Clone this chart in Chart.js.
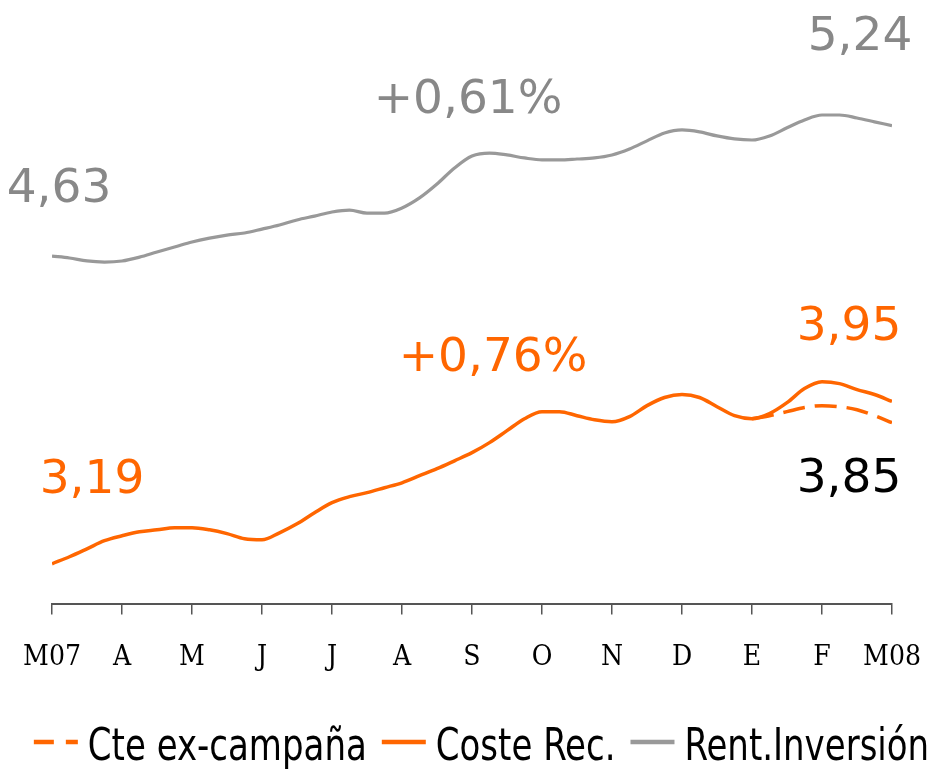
<!DOCTYPE html>
<html>
<head>
<meta charset="utf-8">
<script src="https://cdn.jsdelivr.net/npm/chart.js@4"></script>
<style>
  html,body{margin:0;padding:0;background:#fff;}
  #wrap{width:933px;height:771px;}
</style>
</head>
<body>
<div id="wrap"><canvas id="c" width="933" height="771"></canvas></div>
<script>
// ---- DATA (quarter-month samples, 4 per month) ----
const monthLabels = ['M07','A','M','J','J','A','S','O','N','D','E','F','M08'];
const samplesPerMonth = 4;

const rentInversion = [
  4.630,4.621,4.607,4.602,4.607,4.625,4.649,4.672,4.696,4.714,4.728,4.738,
  4.756,4.775,4.799,4.817,4.836,4.845,4.831,4.831,4.855,4.902,4.967,5.042,
  5.098,5.112,5.103,5.089,5.080,5.080,5.084,5.089,5.103,5.131,5.169,5.206,
  5.220,5.211,5.192,5.178,5.173,5.192,5.230,5.267,5.290,5.290,5.276,5.258,5.240
];
const costeRec = [
  3.190,3.223,3.260,3.298,3.321,3.340,3.349,3.359,3.359,3.349,3.331,3.307,
  3.302,3.335,3.377,3.429,3.476,3.504,3.523,3.546,3.569,3.602,3.635,3.672,
  3.710,3.757,3.813,3.869,3.902,3.902,3.883,3.864,3.855,3.879,3.930,3.968,
  3.982,3.968,3.925,3.883,3.869,3.893,3.944,4.010,4.042,4.033,4.005,3.982,3.950
];
const cteExCampana = [
  null,null,null,null,null,null,null,null,null,null,null,null,
  null,null,null,null,null,null,null,null,null,null,null,null,
  null,null,null,null,null,null,null,null,null,null,null,null,
  null,null,null,null,3.869,3.883,3.902,3.921,3.930,3.925,3.911,3.883,3.850
];
const seriesNames = ['Cte ex-campaña','Coste Rec.','Rent.Inversión'];
const annotationTexts = ['4,63','+0,61%','5,24','3,19','+0,76%','3,95','3,85'];

// ---- styles ----
const ORANGE = '#ff6600';
const GREY = '#999999';
const GREY_TEXT = '#888888';

function toXY(arr){ return arr.map((v,i)=>({x:i/samplesPerMonth, y:v})); }

// annotation placement (styling, relative to series points)
const annotations = [
  {text:annotationTexts[0], ds:2, idx:0,  dx:7,   dy:-54, color:GREY_TEXT},
  {text:annotationTexts[1], ds:2, idx:24, dx:-4,  dy:-43, color:GREY_TEXT},
  {text:annotationTexts[2], ds:2, idx:48, dx:-32, dy:-76, color:GREY_TEXT},
  {text:annotationTexts[3], ds:1, idx:0,  dx:40,  dy:-71, color:ORANGE},
  {text:annotationTexts[4], ds:1, idx:24, dx:21,  dy:-82, color:ORANGE},
  {text:annotationTexts[5], ds:1, idx:48, dx:-43, dy:-61, color:ORANGE},
  {text:annotationTexts[6], ds:0, idx:48, dx:-43, dy:69,  color:'#000000'}
];

const annotationPlugin = {
  id:'valueNotes',
  afterDatasetsDraw(chart){
    const ctx = chart.ctx;
    ctx.save();
    ctx.font = '47px "DejaVu Sans", sans-serif';
    ctx.textAlign = 'center';
    ctx.textBaseline = 'alphabetic';
    annotations.forEach(a=>{
      const pt = chart.getDatasetMeta(a.ds).data[a.idx];
      if(!pt) return;
      ctx.fillStyle = a.color;
      ctx.fillText(a.text, pt.x + a.dx, pt.y + a.dy);
    });
    ctx.restore();
  }
};

const legendPlugin = {
  id:'lineLegend',
  afterDraw(chart){
    const ctx = chart.ctx;
    const ds = chart.data.datasets;
    const iconW = 44, gap = 10, itemGap = 15, squeeze = 0.84, shift = 15;
    ctx.save();
    ctx.font = '45px "DejaVu Sans", sans-serif';
    try { ctx.fontStretch = 'condensed'; } catch(e) {}
    const textW = ds.map(d=>ctx.measureText(d.label).width*squeeze);
    const widths = textW.map(w=>iconW + gap + w);
    const total = widths.reduce((a,b)=>a+b,0) + itemGap*(ds.length-1);
    let x = (chart.width - total)/2 + shift;
    const baseY = 760, iconY = 742;
    ds.forEach((d,i)=>{
      ctx.strokeStyle = d.borderColor;
      ctx.lineWidth = 4.5;
      ctx.lineCap = 'butt';
      ctx.setLineDash(d.borderDash && d.borderDash.length ? [20,12] : []);
      ctx.beginPath();
      ctx.moveTo(x, iconY);
      ctx.lineTo(x+iconW, iconY);
      ctx.stroke();
      ctx.setLineDash([]);
      ctx.fillStyle = '#000';
      ctx.textAlign = 'left';
      ctx.textBaseline = 'alphabetic';
      ctx.save();
      ctx.translate(x+iconW+gap, baseY);
      ctx.scale(squeeze, 1);
      ctx.fillText(d.label, 0, 0);
      ctx.restore();
      x += widths[i] + itemGap;
    });
    ctx.restore();
  }
};

new Chart(document.getElementById('c'), {
  type:'line',
  data:{
    datasets:[
      {label:seriesNames[0], data:toXY(cteExCampana), borderColor:ORANGE, borderWidth:3.5,
       borderDash:[22,10], pointRadius:0, cubicInterpolationMode:'monotone', spanGaps:false},
      {label:seriesNames[1], data:toXY(costeRec), borderColor:ORANGE, borderWidth:3.5,
       pointRadius:0, cubicInterpolationMode:'monotone'},
      {label:seriesNames[2], data:toXY(rentInversion), borderColor:GREY, borderWidth:3.2,
       pointRadius:0, cubicInterpolationMode:'monotone'}
    ]
  },
  options:{
    responsive:false,
    animation:false,
    layout:{padding:{left:52, right:41, top:6, bottom:69}},
    plugins:{legend:{display:false}, tooltip:{enabled:false}},
    scales:{
      x:{
        type:'linear', min:0, max:monthLabels.length-1,
        afterFit(scale){ scale.paddingLeft = 0; scale.paddingRight = 0; },
        grid:{display:true, drawOnChartArea:false, drawTicks:true, tickLength:10, color:'#555', lineWidth:1.5},
        border:{display:true, color:'#555', width:2},
        ticks:{stepSize:1, autoSkip:false, maxRotation:0, padding:27,
          color:'#000', font:{family:'"DejaVu Serif Condensed", "DejaVu Serif", serif', size:28},
          callback:(v)=>monthLabels[v] ?? ''}
      },
      y:{display:false, min:3.0, max:5.8}
    }
  },
  plugins:[annotationPlugin, legendPlugin]
});
</script>
</body>
</html>
